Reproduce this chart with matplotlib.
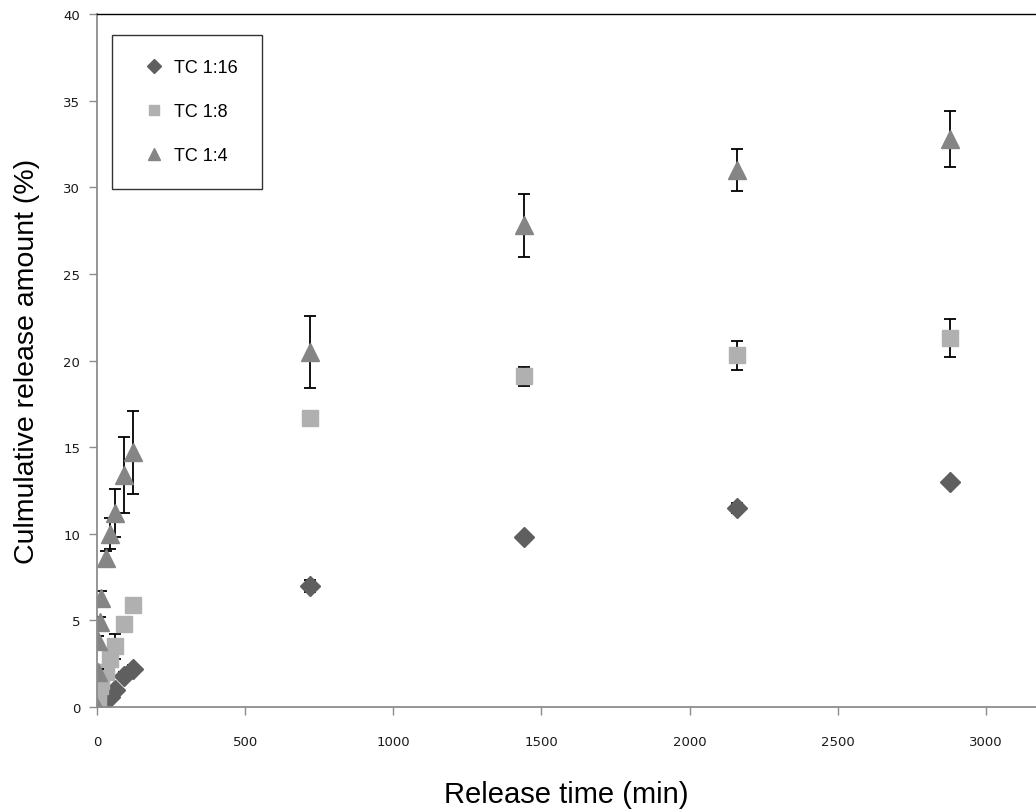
import matplotlib
matplotlib.use("Agg")
import matplotlib.pyplot as plt
import numpy as np

# release time points (min)
time = [0, 2, 5, 10, 15, 30, 45, 60, 90, 120, 720, 1440, 2160, 2880]

# TC 1:16 (diamonds)
tc16 = [0, 0.1, 0.2, 0.3, 0.4, 0.5, 0.6, 1.0, 1.8, 2.2, 7.0, 9.8, 11.5, 13.0]
tc16_err = [0, 0.05, 0.05, 0.1, 0.1, 0.1, 0.1, 0.15, 0.2, 0.2, 0.35, 0.15, 0.3, 0.15]

# TC 1:8 (squares)
tc8 = [0, 0.5, 0.9, 1.2, 1.5, 2.0, 2.8, 3.5, 4.8, 5.9, 16.7, 19.1, 20.3, 21.3]
tc8_err = [0, 0.1, 0.1, 0.15, 0.2, 0.3, 0.3, 0.7, 0.2, 0.2, 0.2, 0.55, 0.85, 1.1]

# TC 1:4 (triangles)
tc4 = [0, 2.0, 3.8, 4.9, 6.3, 8.6, 10.0, 11.2, 13.4, 14.7, 20.5, 27.8, 31.0, 32.8]
tc4_err = [0, 0.2, 0.3, 0.3, 0.4, 0.4, 0.9, 1.4, 2.2, 2.4, 2.1, 1.8, 1.2, 1.6]

series = [
    ('TC 1:16', tc16, tc16_err, 'D', '#5f5f5f', 10),
    ('TC 1:8', tc8, tc8_err, 's', '#b0b0b0', 11),
    ('TC 1:4', tc4, tc4_err, '^', '#858585', 13),
]

fig = plt.figure(figsize=(10.36, 8.12), dpi=100)
ax = fig.add_axes([0.0936, 0.128, 0.9064, 0.8534])

for name, vals, errs, mk, col, ms in series:
    ax.errorbar(time, vals, yerr=errs, fmt='none', ecolor='black', elinewidth=1.3,
                capsize=4.5, capthick=1.3)
    ax.plot(time, vals, linestyle='none', marker=mk, color=col, markersize=ms, label=name)

ax.set_xlim(0, 3169)
ax.set_ylim(0, 40)
ax.set_xticks(np.arange(0, 3001, 500))
ax.set_yticks(np.arange(0, 41, 5))

for s in ['left', 'bottom']:
    ax.spines[s].set_color('#8c8c8c')
    ax.spines[s].set_linewidth(1.3)
ax.spines['top'].set_color('black')
ax.spines['top'].set_linewidth(1.0)
ax.spines['right'].set_visible(False)
ax.tick_params(axis='both', direction='out', length=6, width=1, color='#8c8c8c',
               labelsize=9.5, labelcolor='#1a1a1a')
ax.tick_params(axis='x', pad=14)
ax.tick_params(axis='y', pad=6)

ax.set_xlabel('Release time (min)', fontsize=21, family='Liberation Sans', labelpad=23)
ax.set_ylabel('Culmulative release amount (%)', fontsize=20.5, family='Liberation Sans', labelpad=17)

leg = ax.legend(loc='upper left', bbox_to_anchor=(0.016, 0.97), frameon=True, fancybox=False,
                edgecolor='black', prop={'family': 'Liberation Sans', 'size': 13},
                labelspacing=1.5, borderpad=1.35, handletextpad=0.2, handlelength=1.9,
                markerscale=0.7, borderaxespad=0)
leg.get_frame().set_linewidth(1.0)

fig.savefig('out.png', dpi=100)
